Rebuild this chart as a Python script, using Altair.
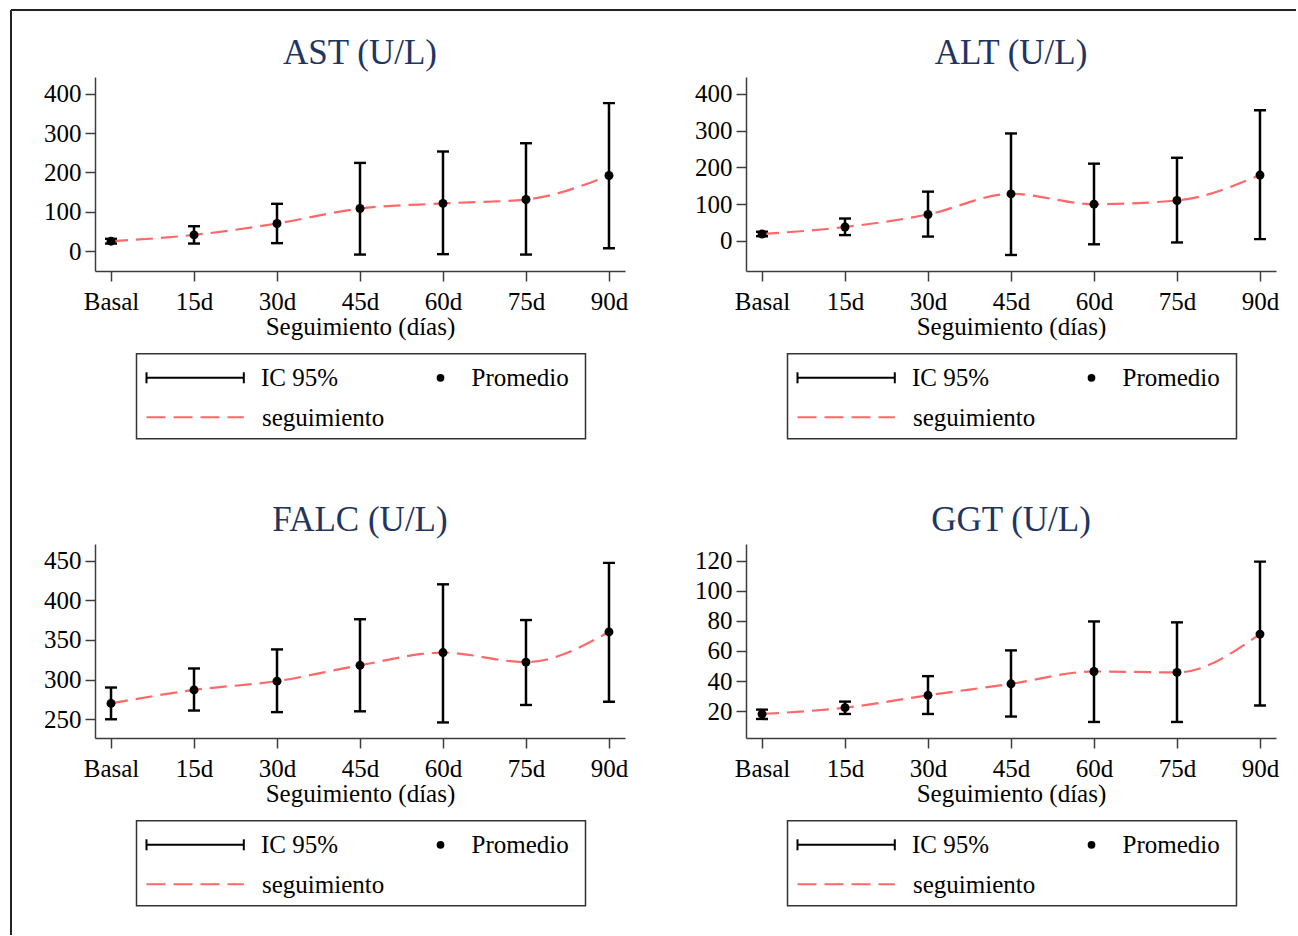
import altair as alt
import pandas as pd

periods = ["Basal", "15d", "30d", "45d", "60d", "75d", "90d"]

ast_mean = [25, 41, 70, 108, 121, 131, 192]
ast_low = [19, 19, 20, -9, -8, -9, 7]
ast_high = [31, 63, 120, 224, 253, 274, 376]

alt_mean = [19, 38, 72, 128, 100, 110, 179]
alt_low = [13, 16, 12, -38, -9, -4, 5]
alt_high = [25, 61, 134, 292, 210, 226, 355]

falc_mean = [270, 287, 298, 318, 334, 322, 360]
falc_low = [250, 261, 259, 260, 246, 268, 272]
falc_high = [290, 314, 338, 376, 420, 375, 447]

ggt_mean = [18.2, 22.4, 30.6, 38.2, 46.4, 45.8, 71.2]
ggt_low = [14.9, 18.2, 18.2, 16.5, 12.9, 12.9, 23.8]
ggt_high = [21.1, 26.4, 43.3, 60.4, 79.6, 79.0, 119.3]

ticks_ast = [0, 100, 200, 300, 400]
ticks_alt = [0, 100, 200, 300, 400]
ticks_falc = [250, 300, 350, 400, 450]
ticks_ggt = [20, 40, 60, 80, 100, 120]

titles = ["AST (U/L)", "ALT (U/L)", "FALC (U/L)", "GGT (U/L)"]
legend_labels = ["IC 95%", "Promedio", "seguimiento"]
x_title = "Seguimiento (días)"

FONT = "Liberation Serif"
RED = "#ff6868"
NAVY = "#1f3562"
AXC = "#3c3c3c"
W, H = 530, 194


def panel(title, mean, low, high, ticks, domain, border=False):
    df = pd.DataFrame({"periodo": periods, "media": mean, "inf": low, "sup": high})
    xaxis = alt.Axis(title=x_title, labelAngle=0, labelFont=FONT, labelFontSize=25,
                     labelColor="black", titleFont=FONT, titleFontSize=25,
                     titleFontWeight="normal", titleColor="black", tickSize=10,
                     tickColor=AXC, domainColor=AXC, tickWidth=1.5, domainWidth=1.5,
                     labelPadding=8, titlePadding=0, grid=False)
    yaxis = alt.Axis(title=None, values=ticks, labelFont=FONT, labelFontSize=25,
                     labelColor="black", tickSize=10, tickColor=AXC, domainColor=AXC,
                     tickWidth=1.5, domainWidth=1.5, labelPadding=4, grid=False)
    xs = alt.Scale(type="point", padding=0.193)
    ys = alt.Scale(domain=domain, nice=False, zero=False)
    X = alt.X("periodo:O", sort=periods, scale=xs, axis=xaxis)

    def Y(f):
        return alt.Y(f + ":Q", scale=ys, axis=yaxis)

    base = alt.Chart(df)
    rules = base.mark_rule(color="black", strokeWidth=2.5).encode(x=X, y=Y("inf"), y2="sup:Q")
    cap_lo = base.mark_tick(color="black", size=12, thickness=2.4, opacity=1).encode(x=X, y=Y("inf"))
    cap_hi = base.mark_tick(color="black", size=12, thickness=2.4, opacity=1).encode(x=X, y=Y("sup"))
    line = base.mark_line(color=RED, strokeDash=[17, 8], strokeWidth=2.2,
                          interpolate="monotone").encode(x=X, y=Y("media"))
    pts = base.mark_point(filled=True, size=80, color="black", opacity=1).encode(x=X, y=Y("media"))

    one = alt.Chart(alt.Data(values=[{"k": 1}]))
    ttl = one.mark_text(align="center", baseline="alphabetic", font=FONT, fontSize=35,
                        color=NAVY).encode(x=alt.value(W / 2), y=alt.value(-13),
                                           text=alt.value(title))
    box = one.mark_rect(fill="white", fillOpacity=0, stroke="#333333", strokeWidth=1.5).encode(
        x=alt.value(41.5), x2=alt.value(490.5), y=alt.value(276.8), y2=alt.value(361.8))
    eb = one.mark_rule(color="black", strokeWidth=2).encode(
        x=alt.value(51.5), x2=alt.value(148.8), y=alt.value(300.8))
    eb_l = one.mark_rule(color="black", strokeWidth=2).encode(
        x=alt.value(51.5), y=alt.value(295.3), y2=alt.value(306.3))
    eb_r = one.mark_rule(color="black", strokeWidth=2).encode(
        x=alt.value(148.8), y=alt.value(295.3), y2=alt.value(306.3))
    dash = one.mark_rule(color=RED, strokeWidth=2, strokeDash=[19, 8]).encode(
        x=alt.value(51.5), x2=alt.value(148.8), y=alt.value(340.2))
    dot = one.mark_point(filled=True, size=60, color="black", opacity=1).encode(
        x=alt.value(345.5), y=alt.value(300.8))

    def txt(s, x, y):
        return one.mark_text(align="left", baseline="alphabetic", font=FONT, fontSize=25,
                             color="black").encode(x=alt.value(x), y=alt.value(y), text=alt.value(s))

    t1 = txt(legend_labels[0], 166, 309.2)
    t2 = txt(legend_labels[1], 376.5, 309.2)
    t3 = txt(legend_labels[2], 167, 348.5)

    layers = [rules, cap_lo, cap_hi, line, pts, ttl, box, eb, eb_l, eb_r, dash, dot, t1, t2, t3]
    if border:
        bv = one.mark_rule(color="#222222", strokeWidth=2).encode(
            x=alt.value(-84), y=alt.value(-67), y2=alt.value(858))
        bh = one.mark_rule(color="#222222", strokeWidth=2).encode(
            x=alt.value(-84), x2=alt.value(1201), y=alt.value(-67))
        layers += [bv, bh]
    return alt.layer(*layers).properties(width=W, height=H)


p1 = panel(titles[0], ast_mean, ast_low, ast_high, ticks_ast, [-50.8, 442.4], border=True)
p2 = panel(titles[1], alt_mean, alt_low, alt_high, ticks_alt, [-81.5, 445.3])
p3 = panel(titles[2], falc_mean, falc_low, falc_high, ticks_falc, [226.4, 470.8])
p4 = panel(titles[3], ggt_mean, ggt_low, ggt_high, ticks_ggt, [2.26, 131.0])

chart = alt.concat(p1, p2, p3, p4, columns=2, spacing={"row": 273, "column": 121},
                   bounds="flush").properties(
    padding={"left": 10, "top": 9, "right": 0, "bottom": 0},
    background="white",
).configure_view(strokeWidth=0)

chart.save("out.html", embed_options={"renderer": "svg", "actions": False})
